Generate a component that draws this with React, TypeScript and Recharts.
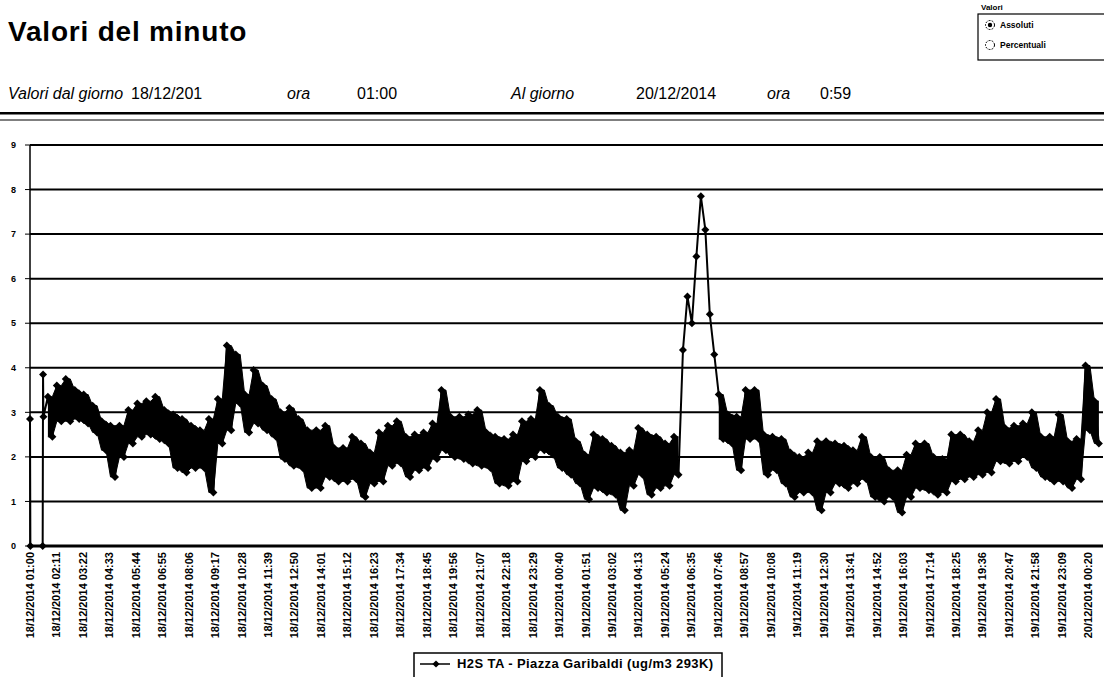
import { ComposedChart, Line, Area, XAxis, YAxis, CartesianGrid } from 'recharts'

// one label every 71 minutes, from 18/12/2014 01:00 to 20/12/2014 00:20
const TICK_LABELS = [
  '18/12/2014 01:00', '18/12/2014 02:11', '18/12/2014 03:22', '18/12/2014 04:33',
  '18/12/2014 05:44', '18/12/2014 06:55', '18/12/2014 08:06', '18/12/2014 09:17',
  '18/12/2014 10:28', '18/12/2014 11:39', '18/12/2014 12:50', '18/12/2014 14:01',
  '18/12/2014 15:12', '18/12/2014 16:23', '18/12/2014 17:34', '18/12/2014 18:45',
  '18/12/2014 19:56', '18/12/2014 21:07', '18/12/2014 22:18', '18/12/2014 23:29',
  '19/12/2014 00:40', '19/12/2014 01:51', '19/12/2014 03:02', '19/12/2014 04:13',
  '19/12/2014 05:24', '19/12/2014 06:35', '19/12/2014 07:46', '19/12/2014 08:57',
  '19/12/2014 10:08', '19/12/2014 11:19', '19/12/2014 12:30', '19/12/2014 13:41',
  '19/12/2014 14:52', '19/12/2014 16:03', '19/12/2014 17:14', '19/12/2014 18:25',
  '19/12/2014 19:36', '19/12/2014 20:47', '19/12/2014 21:58', '19/12/2014 23:09',
  '20/12/2014 00:20',
]
const TICK_STEP = 71
const LAST_MINUTE = 2879

const Y_TICKS = [0, 1, 2, 3, 4, 5, 6, 7, 8, 9]

// first minutes: one value, the analyser drops to zero, then comes back
const OPENING_MINUTES = [0, 1, 34, 35, 36]
const OPENING_VALUES = [2.85, 0, 0, 3.85, 2.9]

// from minute 48 on, every 24 minutes: top and bottom of the dense scatter
const COLUMN_START = 48
const COLUMN_STEP = 24
const UPPER = [
  3.35, 3.6, 3.75, 3.5, 3.4, 3.15, 2.8, 2.7, 2.7, 3.05, 3.2, 3.25, 3.35, 3.05, 2.95, 2.85,
  2.7, 2.6, 2.85, 3.3, 4.5, 4.3, 3.4, 3.95, 3.6, 3.3, 3.0, 3.1, 2.85, 2.6, 2.6, 2.7,
  2.2, 2.2, 2.45, 2.3, 2.1, 2.55, 2.7, 2.8, 2.45, 2.5, 2.55, 2.75, 3.5, 2.9, 2.9, 2.95,
  3.05, 2.55, 2.45, 2.4, 2.5, 2.8, 2.85, 3.5, 3.15, 2.9, 2.85, 2.35, 2.05, 2.5, 2.4, 2.25,
  2.1, 2.15, 2.65, 2.5, 2.45, 2.3, 2.45, 5.6, 6.5, 7.85, 5.2, 3.4, 2.95, 2.9, 3.5, 3.5,
  2.5, 2.45, 2.4, 2.1, 2.0, 2.1, 2.35, 2.35, 2.3, 2.25, 2.15, 2.45, 2.0, 2.0, 1.7, 1.7,
  2.05, 2.3, 2.3, 2.0, 1.95, 2.5, 2.5, 2.35, 2.6, 3.0, 3.3, 2.65, 2.7, 2.75, 3.0, 2.45,
  2.45, 2.95, 2.35, 2.4, 4.05, 3.25,
]
const LOWER = [
  2.45, 2.8, 2.8, 2.85, 2.75, 2.55, 2.15, 1.55, 2.0, 2.3, 2.45, 2.5, 2.4, 2.3, 1.75, 1.65,
  1.75, 1.75, 1.2, 2.3, 2.6, 3.2, 2.55, 2.75, 2.6, 2.45, 1.95, 1.8, 1.75, 1.3, 1.3, 1.55,
  1.45, 1.45, 1.5, 1.1, 1.4, 1.45, 1.8, 1.85, 1.55, 1.7, 1.75, 1.95, 2.15, 2.0, 1.95, 1.85,
  1.8, 1.75, 1.4, 1.35, 1.45, 1.9, 2.0, 2.15, 2.05, 1.75, 1.6, 1.4, 1.05, 1.3, 1.2, 1.15,
  0.8, 1.35, 1.6, 1.15, 1.3, 1.35, 1.6, 4.4, 5.0, 7.1, 4.3, 2.4, 2.3, 1.7, 2.4, 2.4,
  1.6, 1.7, 1.4, 1.1, 1.2, 1.2, 0.8, 1.2, 1.4, 1.3, 1.4, 1.5, 1.1, 1.0, 1.1, 0.75,
  1.1, 1.3, 1.25, 1.15, 1.2, 1.45, 1.5, 1.55, 1.6, 1.65, 1.9, 1.85, 1.9, 2.0, 1.75, 1.55,
  1.45, 1.45, 1.3, 1.5, 2.6, 2.3,
]
// columns of the morning peak where the points form a single trace, not a cloud
const SINGLE_TRACE_COLUMNS = [71, 72, 73, 74]
// on the rising side of the peak the lower value comes first
const RISING_COLUMNS = [71, 72]

type Row = { minute: number; h2s: number; band?: [number, number] | null }

const data: Row[] = OPENING_MINUTES.map((m, i) => ({ minute: m, h2s: OPENING_VALUES[i], band: null }))
UPPER.forEach((hi, i) => {
  const m = COLUMN_START + i * COLUMN_STEP
  const lo = LOWER[i]
  const band: [number, number] | null = SINGLE_TRACE_COLUMNS.includes(i) ? null : [lo, hi]
  const [first, second] = RISING_COLUMNS.includes(i) ? [lo, hi] : [hi, lo]
  data.push({ minute: m, h2s: first, band })
  data.push({ minute: m + COLUMN_STEP / 2, h2s: second, band })
})

const xTicks = TICK_LABELS.map((_, i) => i * TICK_STEP)

const FONT = '"Liberation Sans", Arial, sans-serif'

function Diamond(props: any) {
  const { cx, cy, index, value } = props
  if (cx == null || cy == null || value == null) return <g key={index} />
  const r = 4
  return (
    <path
      key={index}
      d={`M${cx},${cy - r}L${cx + r},${cy}L${cx},${cy + r}L${cx - r},${cy}Z`}
      fill="#000"
    />
  )
}

function XTick({ x, y, payload }: any) {
  const label = TICK_LABELS[Math.round(payload.value / TICK_STEP)]
  return (
    <text
      x={x}
      y={y}
      transform={`rotate(-90 ${x} ${y})`}
      textAnchor="end"
      dy="0.35em"
      fontSize={11}
      fontWeight="bold"
      fontFamily={FONT}
      fill="#000"
    >
      {label}
    </text>
  )
}

function Header() {
  const info = { fontSize: 16, fontFamily: FONT, fill: '#000' }
  return (
    <svg
      width={1104}
      height={677}
      style={{ position: 'absolute', left: 0, top: 0, pointerEvents: 'none' }}
    >
      <text x={8} y={41} fontSize={28} fontWeight="bold" fontFamily={FONT} letterSpacing={0.8}>
        Valori del minuto
      </text>

      <text x={8} y={99} fontStyle="italic" {...info}>Valori dal giorno</text>
      <text x={131} y={99} {...info}>18/12/201</text>
      <text x={287} y={99} fontStyle="italic" {...info}>ora</text>
      <text x={357} y={99} {...info}>01:00</text>
      <text x={511} y={99} fontStyle="italic" {...info}>Al giorno</text>
      <text x={636} y={99} {...info}>20/12/2014</text>
      <text x={767} y={99} fontStyle="italic" {...info}>ora</text>
      <text x={820} y={99} {...info}>0:59</text>

      <rect x={0} y={112} width={1104} height={2.5} fill="#000" />
      <rect x={0} y={119.5} width={1104} height={1} fill="#000" />

      <text x={981} y={10} fontSize={8} fontWeight="bold" fontFamily={FONT}>Valori</text>
      <rect x={978} y={14} width={140} height={46} fill="none" stroke="#000" strokeWidth={1.2} />
      <circle cx={990} cy={25} r={4.5} fill="none" stroke="#000" strokeWidth={1} strokeDasharray="2 1.2" />
      <circle cx={990} cy={25} r={2.2} fill="#000" />
      <text x={1000} y={28} fontSize={8.5} fontWeight="bold" fontFamily={FONT}>Assoluti</text>
      <circle cx={990} cy={45} r={4.5} fill="none" stroke="#000" strokeWidth={1} strokeDasharray="2 1.2" />
      <text x={1000} y={48} fontSize={8.5} fontWeight="bold" fontFamily={FONT}>Percentuali</text>

      <rect x={414} y={653} width={308} height={26} fill="none" stroke="#000" strokeWidth={1.5} />
      <line x1={420} y1={664} x2={450} y2={664} stroke="#000" strokeWidth={1.5} />
      <path d="M436,660.4L439.6,664L436,667.6L432.4,664Z" fill="#000" />
      <text x={457} y={668} fontSize={13} fontWeight="bold" fontFamily={FONT} letterSpacing={0.4}>
        H2S TA - Piazza Garibaldi (ug/m3 293K)
      </text>
    </svg>
  )
}

export default function App() {
  return (
    <div style={{ position: 'relative', width: 1104, height: 677, background: '#fff', fontFamily: FONT }}>
      <style>{'body{margin:0}'}</style>
      <ComposedChart
        width={1104}
        height={677}
        data={data}
        margin={{ top: 145, right: 1, bottom: 31, left: 0 }}
      >
        <CartesianGrid vertical={false} stroke="#000" strokeWidth={2} />
        <XAxis
          type="number"
          dataKey="minute"
          domain={[0, LAST_MINUTE]}
          ticks={xTicks}
          interval={0}
          height={100}
          tick={<XTick />}
          tickLine={false}
          tickSize={6}
          tickMargin={0}
          axisLine={{ stroke: '#000', strokeWidth: 3 }}
        />
        <YAxis
          domain={[0, 9]}
          ticks={Y_TICKS}
          interval={0}
          width={30}
          tickSize={5}
          tickMargin={9}
          tick={{ fill: '#000', fontSize: 9, fontWeight: 'bold', fontFamily: FONT }}
          tickLine={{ stroke: '#000' }}
          axisLine={{ stroke: '#000', strokeWidth: 1.5 }}
        />
        <Area
          type="linear"
          dataKey="band"
          fill="#000"
          fillOpacity={1}
          stroke="#000"
          strokeWidth={1}
          dot={false}
          activeDot={false}
          isAnimationActive={false}
        />
        <Line
          type="linear"
          dataKey="h2s"
          stroke="#000"
          strokeWidth={2}
          dot={<Diamond />}
          activeDot={false}
          isAnimationActive={false}
        />
      </ComposedChart>
      <Header />
    </div>
  )
}
